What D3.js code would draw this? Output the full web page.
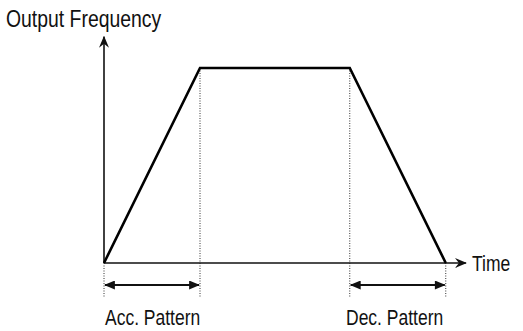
<!DOCTYPE html>
<html><head><meta charset="utf-8">
<script src="https://cdn.jsdelivr.net/npm/d3@7"></script>
<style>body{margin:0;background:#fff}svg{display:block}text{font-family:"Liberation Sans",Arial,sans-serif;fill:#111}</style>
</head><body><svg id="c" width="523" height="331"></svg>
<script>
// Profile key times and normalized output frequency
const times = [0, 1, 2.56, 3.56];
const freq = [0, 1, 1, 0];
const axisMax = { t: 3.77, f: 1.16 };
const labels = { y: "Output Frequency", x: "Time", acc: "Acc. Pattern", dec: "Dec. Pattern" };
const spans = [[0, 1], [2.56, 3.56]];

const svg = d3.select("#c");
const x = d3.scaleLinear().domain([0, 4]).range([104, 488]);
const y = d3.scaleLinear().domain([0, 1]).range([263, 68]);

const defs = svg.append("defs");
defs.append("marker").attr("id", "ax").attr("viewBox", "0 0 12 10").attr("refX", 11).attr("refY", 5)
  .attr("markerWidth", 12).attr("markerHeight", 10).attr("markerUnits", "userSpaceOnUse").attr("orient", "auto")
  .append("path").attr("d", "M0,0 L12,5 L0,10 L4,5 Z").attr("fill", "#111");
defs.append("marker").attr("id", "ar").attr("viewBox", "0 0 12 10").attr("refX", 11).attr("refY", 5)
  .attr("markerWidth", 12).attr("markerHeight", 9).attr("markerUnits", "userSpaceOnUse").attr("orient", "auto-start-reverse")
  .append("path").attr("d", "M0,0 L12,5 L0,10 Z").attr("fill", "#111");

// dotted guides
const guideBottom = 297;
times.forEach((t, i) => {
  svg.append("line").attr("x1", x(t)).attr("x2", x(t))
    .attr("y1", y(freq[i])).attr("y2", guideBottom)
    .attr("stroke", "#333").attr("stroke-width", 1).attr("stroke-dasharray", "1,1.5");
});

// axes
svg.append("line").attr("x1", x(0)).attr("x2", x(0)).attr("y1", y(0)).attr("y2", y(axisMax.f))
  .attr("stroke", "#111").attr("stroke-width", 1.6).attr("marker-end", "url(#ax)");
svg.append("line").attr("x1", x(0)).attr("x2", x(axisMax.t)).attr("y1", y(0)).attr("y2", y(0))
  .attr("stroke", "#111").attr("stroke-width", 1.6).attr("marker-end", "url(#ax)");

// trapezoid profile
svg.append("path").datum(times.map((t, i) => [t, freq[i]]))
  .attr("d", d3.line().x(d => x(d[0])).y(d => y(d[1])))
  .attr("fill", "none").attr("stroke", "#000").attr("stroke-width", 2.6).attr("stroke-linejoin", "miter");

// span arrows
spans.forEach(s => {
  svg.append("line").attr("x1", x(s[0]) + 1).attr("x2", x(s[1]) - 1).attr("y1", 285).attr("y2", 285)
    .attr("stroke", "#111").attr("stroke-width", 2)
    .attr("marker-start", "url(#ar)").attr("marker-end", "url(#ar)");
});

function lbl(txt, px, py, fs, sy) {
  svg.append("text").attr("transform", `translate(${px},${py}) scale(1,${sy})`).attr("font-size", fs).text(txt);
}
lbl(labels.y, 6, 27, 19.4, 1.22);
lbl(labels.x, 472, 271, 17.5, 1.3);
lbl(labels.acc, 105, 325, 17.5, 1.3);
lbl(labels.dec, 346, 325, 17.5, 1.3);
</script></body></html>
